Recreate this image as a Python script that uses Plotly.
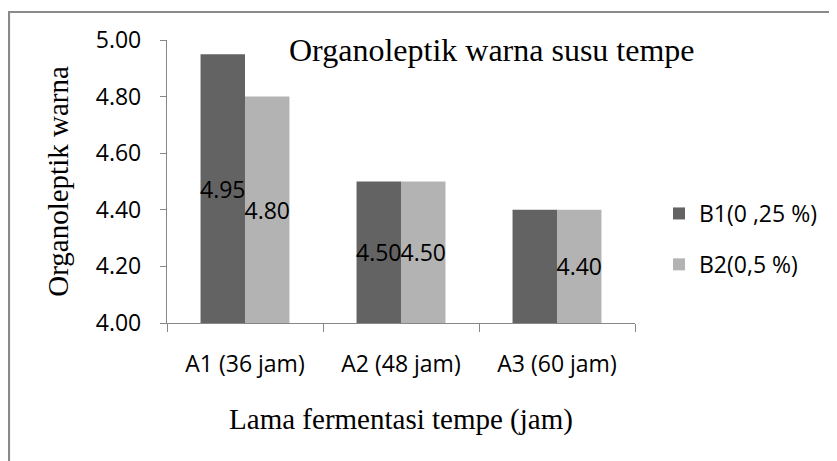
import plotly.graph_objects as go

categories = ["A1 (36 jam)", "A2 (48 jam)", "A3 (60 jam)"]
series_names = ["B1(0 ,25 %)", "B2(0,5 %)"]
b1_values = [4.95, 4.50, 4.40]
b2_values = [4.80, 4.50, 4.40]
b1_labels = ["4.95", "4.50", ""]
b2_labels = ["4.80", "4.50", "4.40"]
y_ticks = [4.00, 4.20, 4.40, 4.60, 4.80, 5.00]
y_min, y_max = 4.0, 5.0

title_text = "Organoleptik warna susu tempe"
x_title = "Lama fermentasi tempe (jam)"
y_title = "Organoleptik warna"

sans = "Open Sans"
serif = "Liberation Serif"
axis_grey = "#878787"
TICK_FS = 23

# page body has an 8px margin: lay out in page pixels, shifted by OFF
OFF = 8
W, H = 837 - OFF, 461 - OFF
plot_left, plot_right, plot_top, plot_bottom = 167, 635, 40, 323
L = plot_left - OFF
R = W - (plot_right - OFF)
T = plot_top - OFF
B = H - (plot_bottom - OFF)
pw, ph = plot_right - plot_left, plot_bottom - plot_top


def px_x(x):
    return (x - plot_left) / pw


def px_y(y):
    return (plot_bottom - y) / ph


fig = go.Figure()
for name, vals, labels, color, grp in [
    (series_names[0], b1_values, b1_labels, "#636363", "b1"),
    (series_names[1], b2_values, b2_labels, "#b3b3b3", "b2"),
]:
    fig.add_trace(go.Bar(
        x=categories, y=[v - y_min for v in vals], base=y_min,
        name=name, legendgroup=grp,
        marker=dict(color=color, line=dict(width=0)),
        text=labels, textposition="inside", insidetextanchor="middle",
        textangle=0, constraintext="none",
        textfont=dict(family=sans, size=TICK_FS, color="black"),
        hovertext=[f"{v:.2f}" for v in vals], hoverinfo="x+text+name",
    ))

fig.update_layout(
    width=W, height=H,
    margin=dict(l=L, r=R, t=T, b=B, pad=0),
    paper_bgcolor="white", plot_bgcolor="white",
    barmode="group", bargap=0.43, bargroupgap=0,
    showlegend=True,
    legend=dict(
        x=px_x(659), y=px_y(239), xanchor="left", yanchor="middle",
        font=dict(family=sans, size=TICK_FS, color="black"),
        traceorder="grouped", tracegroupgap=18,
        bgcolor="rgba(0,0,0,0)",
    ),
    font=dict(family=sans, size=TICK_FS, color="black"),
)

fig.update_xaxes(
    type="category", showline=True, linecolor=axis_grey, linewidth=1.3,
    ticks="outside", tickson="boundaries", ticklen=8, tickcolor=axis_grey, tickwidth=1.3,
    ticklabelstandoff=20,
    tickfont=dict(family=sans, size=TICK_FS, color="black"),
    showgrid=False, zeroline=False,
    title=dict(text=x_title, font=dict(family=serif, size=29, color="black"), standoff=30),
)
fig.update_yaxes(
    range=[y_min, y_max], tickvals=y_ticks, tickformat=".2f",
    showline=True, linecolor=axis_grey, linewidth=1.3,
    ticks="outside", ticklen=6, tickcolor=axis_grey, tickwidth=1.3,
    ticklabelstandoff=14,
    tickfont=dict(family=sans, size=TICK_FS, color="black"),
    showgrid=False, zeroline=False,
    title=dict(text=y_title, font=dict(family=serif, size=29, color="black"), standoff=18),
)

fig.add_annotation(
    text=title_text, xref="paper", yref="paper",
    x=px_x(492), y=px_y(50), xanchor="center", yanchor="middle",
    showarrow=False, font=dict(family=serif, size=32, color="black"),
)

fig.add_shape(
    type="rect", xref="paper", yref="paper",
    x0=px_x(9), x1=px_x(900),
    y0=px_y(520), y1=px_y(12),
    line=dict(color="#8a8a8a", width=2.2), fillcolor="rgba(0,0,0,0)", layer="below",
)

fig.write_html("out.html")
